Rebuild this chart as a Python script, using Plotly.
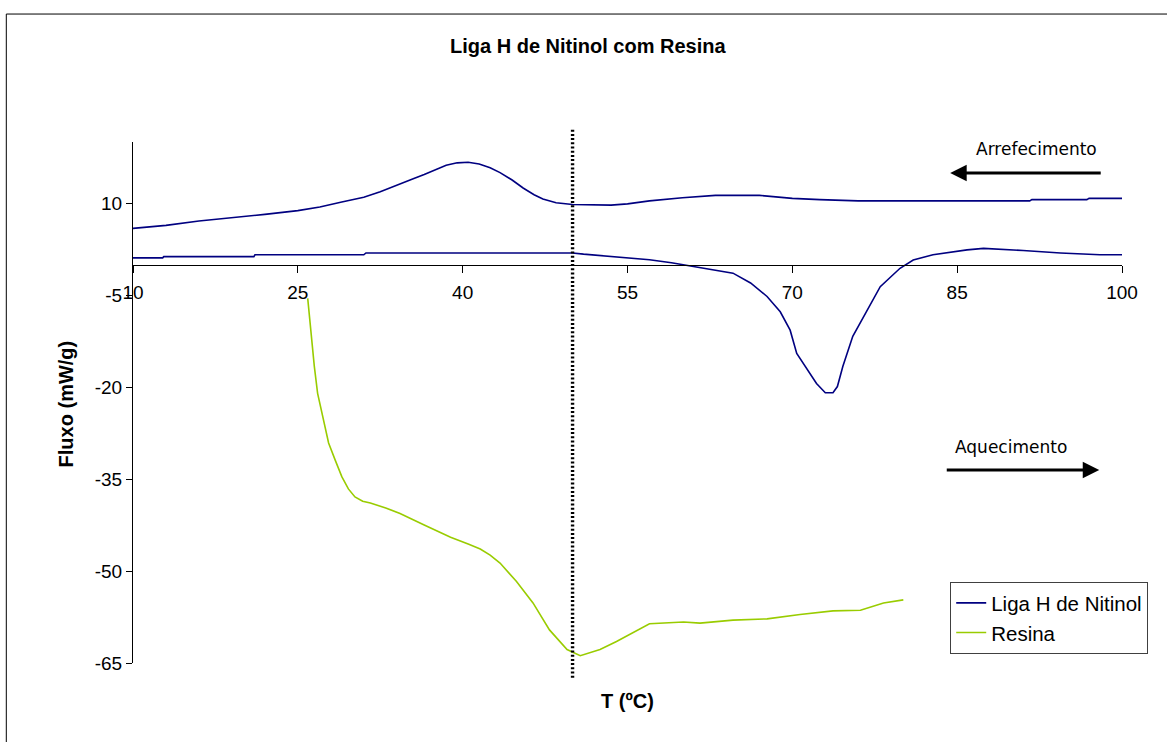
import plotly.graph_objects as go

# Axis settings
X_RANGE = [10, 100]
Y_RANGE = [-65, 20]
X_TICKS = [10, 25, 40, 55, 70, 85, 100]
Y_TICKS = [-65, -50, -35, -20, -5, 10]
Y_TICK_TEXT = ["-65", "-50", "-35", "-20", "-5", "10"]

# Liga H de Nitinol - cooling run (upper curve)
cool_T = [10, 13, 16, 19, 22, 25, 27, 29, 31, 32.5, 34.3, 35.5, 36.5, 37.5, 38.5, 39.5,
          40.5, 41.5, 42.5, 43.4, 44.5, 45.5, 46.5, 47.3, 48.5, 50, 52, 53.5, 55, 57,
          60, 63, 67, 70, 72.5, 76, 91.6, 91.8, 96.8, 97, 100]
cool_F = [5.9, 6.4, 7.1, 7.6, 8.2, 8.8, 9.4, 10.2, 11.0, 11.9, 13.1, 14.0, 14.7, 15.5,
          16.2, 16.6, 16.7, 16.4, 15.8, 15.0, 13.8, 12.5, 11.4, 10.7, 10.1, 9.8, 9.7,
          9.7, 9.9, 10.4, 10.9, 11.3, 11.3, 10.8, 10.6, 10.4, 10.4, 10.6, 10.6, 10.8,
          10.8]

# Liga H de Nitinol - heating run (lower curve)
heat_T = [10, 12.7, 12.8, 21, 21.1, 31, 31.2, 50, 51, 54, 57, 59, 61, 63, 64.6, 66.2,
          67.7, 68.9, 69.8, 70.4, 71.3, 72.2, 73.0, 73.7, 74.1, 74.6, 75.5, 76.8, 78.0,
          79.8, 81.0, 82.8, 85.9, 87.4, 89.2, 91, 94.4, 98, 100]
heat_F = [1.1, 1.1, 1.3, 1.3, 1.6, 1.6, 1.9, 1.9, 1.7, 1.3, 0.8, 0.3, -0.3, -0.8, -1.4,
          -3.0, -5.2, -7.7, -10.7, -14.5, -16.9, -19.4, -20.9, -20.9, -19.9, -16.6,
          -11.7, -7.4, -3.6, -0.6, 0.75, 1.6, 2.4, 2.65, 2.5, 2.3, 1.9, 1.6, 1.6]

# Resina
res_T = [25.9, 26.2, 26.5, 26.8, 27.3, 27.8, 28.4, 29.0, 29.6, 30.2, 30.9, 31.6, 33.0,
         34.3, 36.5, 38.9, 40.5, 41.6, 42.5, 43.4, 44.9, 46.4, 47.9, 49.5, 50.7, 52.5,
         54.0, 55.5, 57.0, 60.1, 61.6, 64.6, 67.7, 70.7, 73.7, 76.2, 78.3, 80.1]
res_F = [-5.5, -11.7, -16.6, -21.0, -24.8, -29.1, -31.9, -34.6, -36.6, -37.9, -38.6,
         -38.9, -39.7, -40.6, -42.5, -44.5, -45.6, -46.4, -47.4, -48.7, -51.7, -55.2,
         -59.6, -62.8, -63.8, -62.8, -61.5, -60.0, -58.6, -58.3, -58.5, -58.0, -57.8,
         -57.1, -56.5, -56.4, -55.2, -54.7]

# Reference temperature marker
T_MARK = 50
MARK_SPAN = [-67.4, 22.2]

NAVY = "#000080"
LIME = "#99CC00"
SANS = "Liberation Sans, Arial, sans-serif"


def xp(v):
    return (v - X_RANGE[0]) / (X_RANGE[1] - X_RANGE[0])


def yp(v):
    return (v - Y_RANGE[0]) / (Y_RANGE[1] - Y_RANGE[0])


fig = go.Figure()
fig.add_trace(go.Scatter(x=cool_T, y=cool_F, mode="lines", name="Liga H de Nitinol",
                         line=dict(color=NAVY, width=1.6), legendgroup="liga"))
fig.add_trace(go.Scatter(x=heat_T, y=heat_F, mode="lines", name="Liga H de Nitinol",
                         line=dict(color=NAVY, width=1.6), legendgroup="liga",
                         showlegend=False))
fig.add_trace(go.Scatter(x=res_T, y=res_F, mode="lines", name="Resina",
                         line=dict(color=LIME, width=1.6)))

fig.update_layout(
    width=1167, height=742,
    margin=dict(l=133, r=45, t=142, b=79, pad=0, autoexpand=False),
    paper_bgcolor="white", plot_bgcolor="white",
    font=dict(family=SANS, size=19, color="black"),
    showlegend=True,
    legend=dict(x=0.8263, y=0.1553, xanchor="left", yanchor="top",
                bordercolor="#404040", borderwidth=1, bgcolor="white",
                font=dict(family=SANS, size=20.5, color="black"),
                tracegroupgap=0, itemwidth=30),
    xaxis=dict(range=X_RANGE, tickvals=X_TICKS, ticks="outside", ticklen=7,
               tickwidth=1, tickcolor="black", showline=True, linecolor="black",
               linewidth=1, showgrid=False, zeroline=False, anchor="free",
               position=yp(0), domain=[0, 1], ticklabelstandoff=4,
               tickfont=dict(family=SANS, size=19, color="black")),
    yaxis=dict(range=Y_RANGE, tickvals=Y_TICKS, ticktext=Y_TICK_TEXT, ticks="outside",
               ticklen=6, tickwidth=1, tickcolor="black", showline=True,
               linecolor="black", linewidth=1, showgrid=False, zeroline=False,
               domain=[0, 1], tickfont=dict(family=SANS, size=19, color="black")),
)

# Outer chart frame
fig.add_shape(type="rect", xref="paper", yref="paper",
              x0=-0.1281, y0=-0.2, x1=1.2, y1=1.2456,
              line=dict(color="black", width=1), fillcolor="rgba(0,0,0,0)", layer="below")

# Dotted marker at T = 50
fig.add_shape(type="line", xref="paper", yref="paper",
              x0=xp(T_MARK), x1=xp(T_MARK), y0=yp(MARK_SPAN[0]), y1=yp(MARK_SPAN[1]),
              line=dict(color="black", width=3.4, dash="2px,2.2px"))

annotations = [
    dict(text="<b>Liga H de Nitinol com Resina</b>", x=0.46, y=1.1845,
         font=dict(family=SANS, size=20)),
    dict(text="<b>Fluxo (mW/g)</b>", x=-0.0674, y=0.497, textangle=-90,
         font=dict(family=SANS, size=20)),
    dict(text="<b>T (ºC)</b>", x=0.4995, y=-0.0725,
         font=dict(family=SANS, size=20)),
    dict(text="Arrefecimento", x=0.9134, y=0.9873,
         font=dict(family="DejaVu Sans, Verdana, sans-serif", size=17)),
    dict(text="Aquecimento", x=0.888, y=0.4153,
         font=dict(family="DejaVu Sans, Verdana, sans-serif", size=17)),
]
for a in annotations:
    fig.add_annotation(xref="paper", yref="paper", showarrow=False,
                       xanchor="center", yanchor="middle", **a)

# Direction arrows
fig.add_annotation(xref="paper", yref="paper", x=0.8263, y=0.9406, ax=152, ay=0,
                   text="", showarrow=True, arrowhead=2, arrowsize=1.1,
                   arrowwidth=3, arrowcolor="black", standoff=0, startstandoff=0)
fig.add_annotation(xref="paper", yref="paper", x=0.977, y=0.3706, ax=-154, ay=0,
                   text="", showarrow=True, arrowhead=2, arrowsize=1.1,
                   arrowwidth=3, arrowcolor="black", standoff=0, startstandoff=0)

fig.write_html("out.html")
